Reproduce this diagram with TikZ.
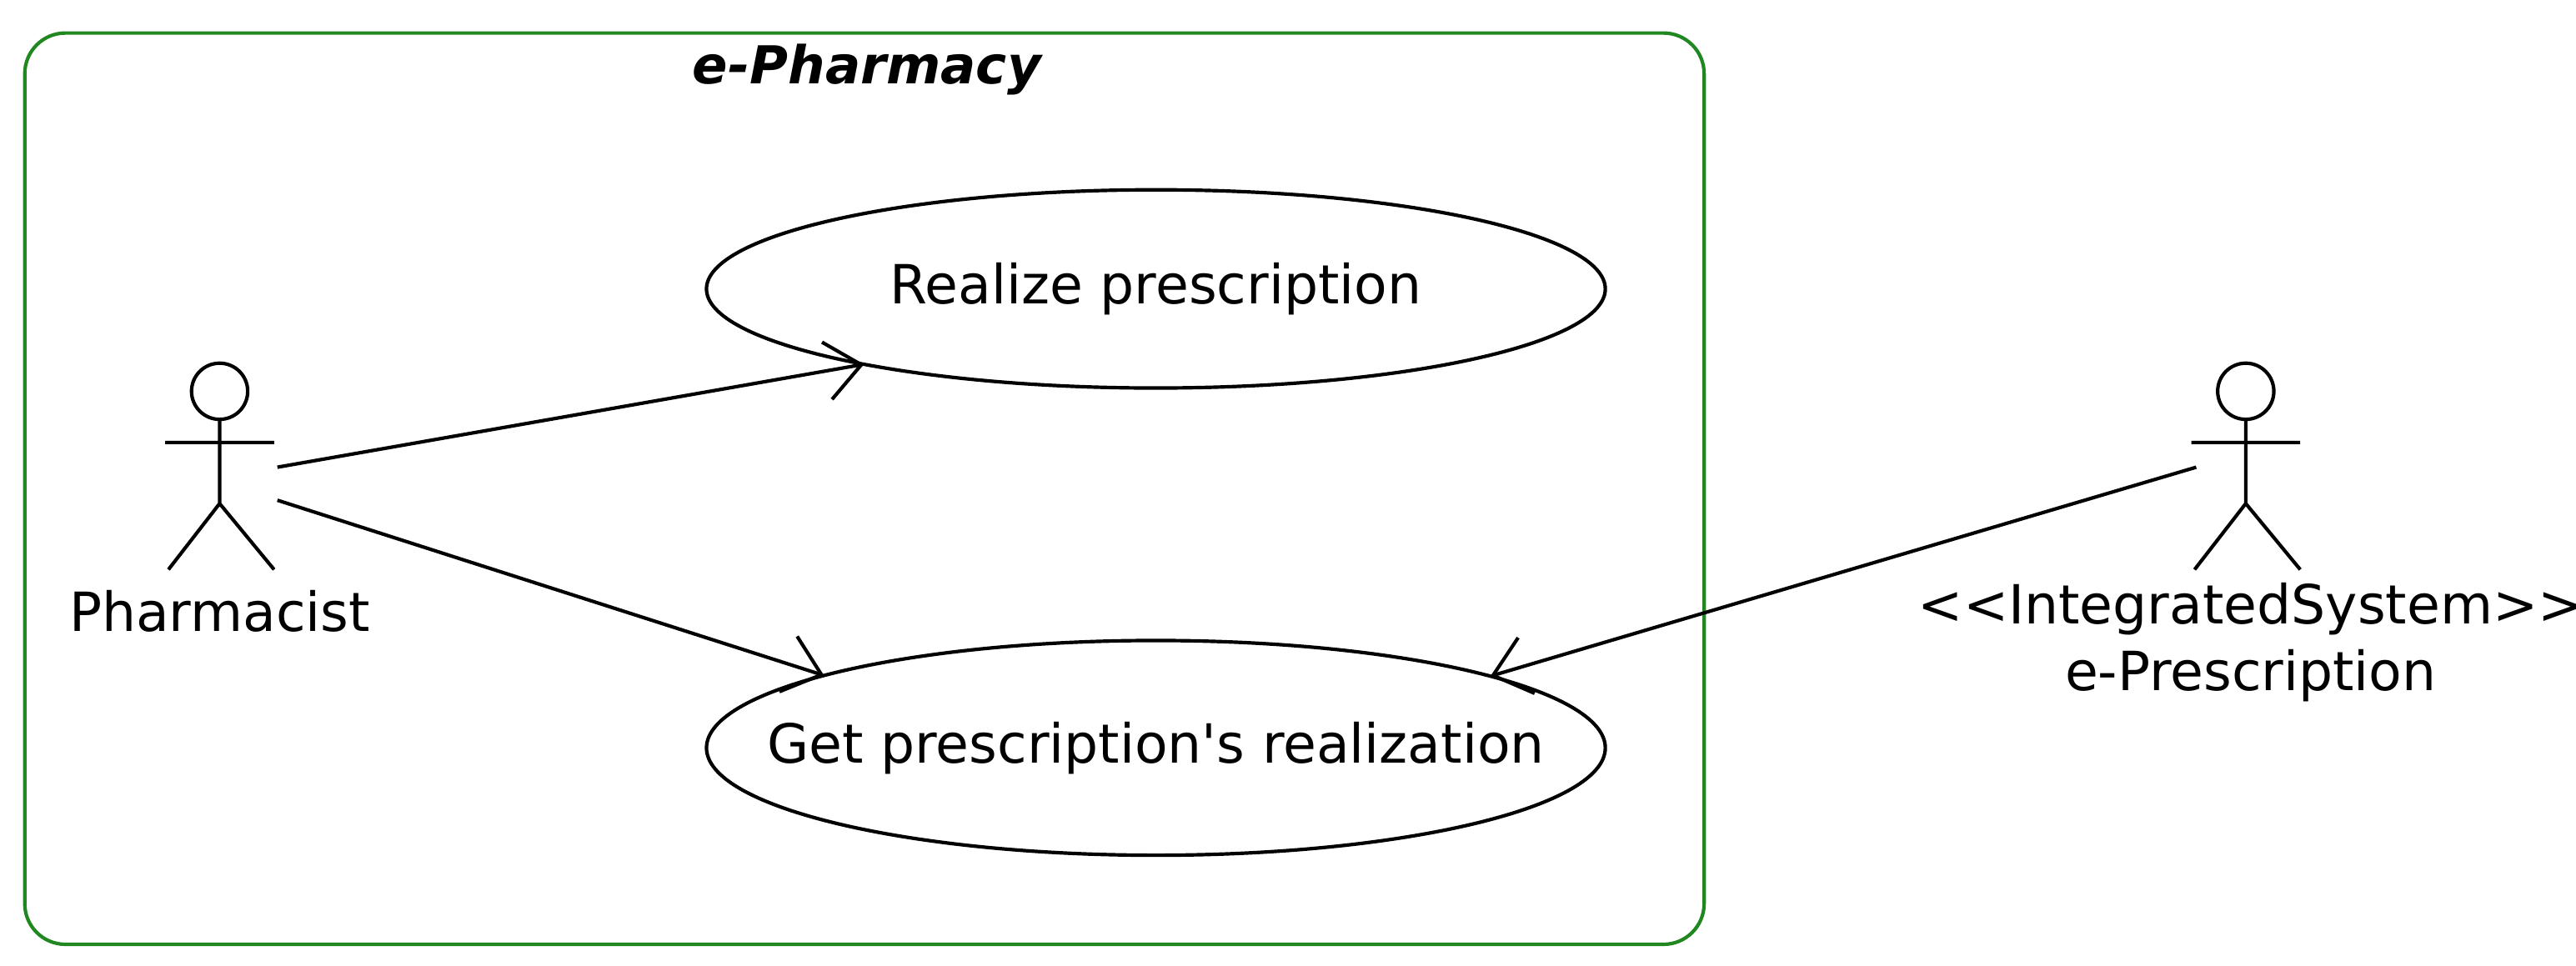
\documentclass[tikz,border=0pt]{standalone}
\usepackage{fontspec}
\setmainfont{DejaVu Sans}
\usetikzlibrary{arrows.meta,positioning,calc}
\definecolor{framegreen}{rgb}{0.13, 0.53, 0.13}
\begin{document}
\begin{tikzpicture}[x=0.01cm,y=-0.01cm,
    usecase/.style={inner sep=0pt,font=\fontsize{9.3}{11}\selectfont},
    label text/.style={font=\fontsize{9.3}{11.5}\selectfont,align=center},
    assoc/.style={semithick,-{Straight Barb[length=6pt,width=10pt]}}]
	% Bounding box and system frame.
	\useasboundingbox (0,0) rectangle (1560,585);
	\draw [framegreen,semithick,rounded corners=7] (15,20) rectangle (1032,572);
	\node (title) at (525,42) [font=\fontsize{9}{11}\selectfont\bfseries\itshape] {e-Pharmacy};

	% Use cases.
	\node (realize) at (700,175) [usecase] {Realize prescription};
	\node (getreal) at (700,453) [usecase] {Get prescription\textquotesingle s realization};
	\draw [semithick] (realize) ellipse [x radius=2.72cm, y radius=0.6cm];
	\draw [semithick] (getreal) ellipse [x radius=2.72cm, y radius=0.65cm];
	\coordinate (realizeIn) at ($(realize)+(229.5:2.72cm and 0.6cm)$);
	\coordinate (getrealInL) at ($(getreal)+(137.6:2.72cm and 0.65cm)$);
	\coordinate (getrealInR) at ($(getreal)+(41.9:2.72cm and 0.65cm)$);

	% Actors.
	\foreach \name/\cx in {pharm/133,presc/1360} {
	    \draw [semithick] (\cx,237) circle (0.17cm);
	    \draw [semithick] (\cx,254)--(\cx,305) (\cx-33,268)--(\cx+33,268)
	        (\cx-31,345)--(\cx,305)--(\cx+33,345);
	    \coordinate (\name) at (\cx,290);
	}
	\node (pharmlabel) at (133,370) [label text] {Pharmacist};
	\node (presclabel) at (1363,389) [label text] {<{}<IntegratedSystem>{}>\\e-Prescription};

	% Associations.
	\coordinate (pharmA) at (168,283);
	\coordinate (pharmB) at (168,303);
	\coordinate (prescA) at (1330,283);
	\draw [assoc] (pharmA) -- (realizeIn);
	\draw [assoc] (pharmB) -- (getrealInL);
	\draw [assoc] (prescA) -- (getrealInR);
\end{tikzpicture}
\end{document}
